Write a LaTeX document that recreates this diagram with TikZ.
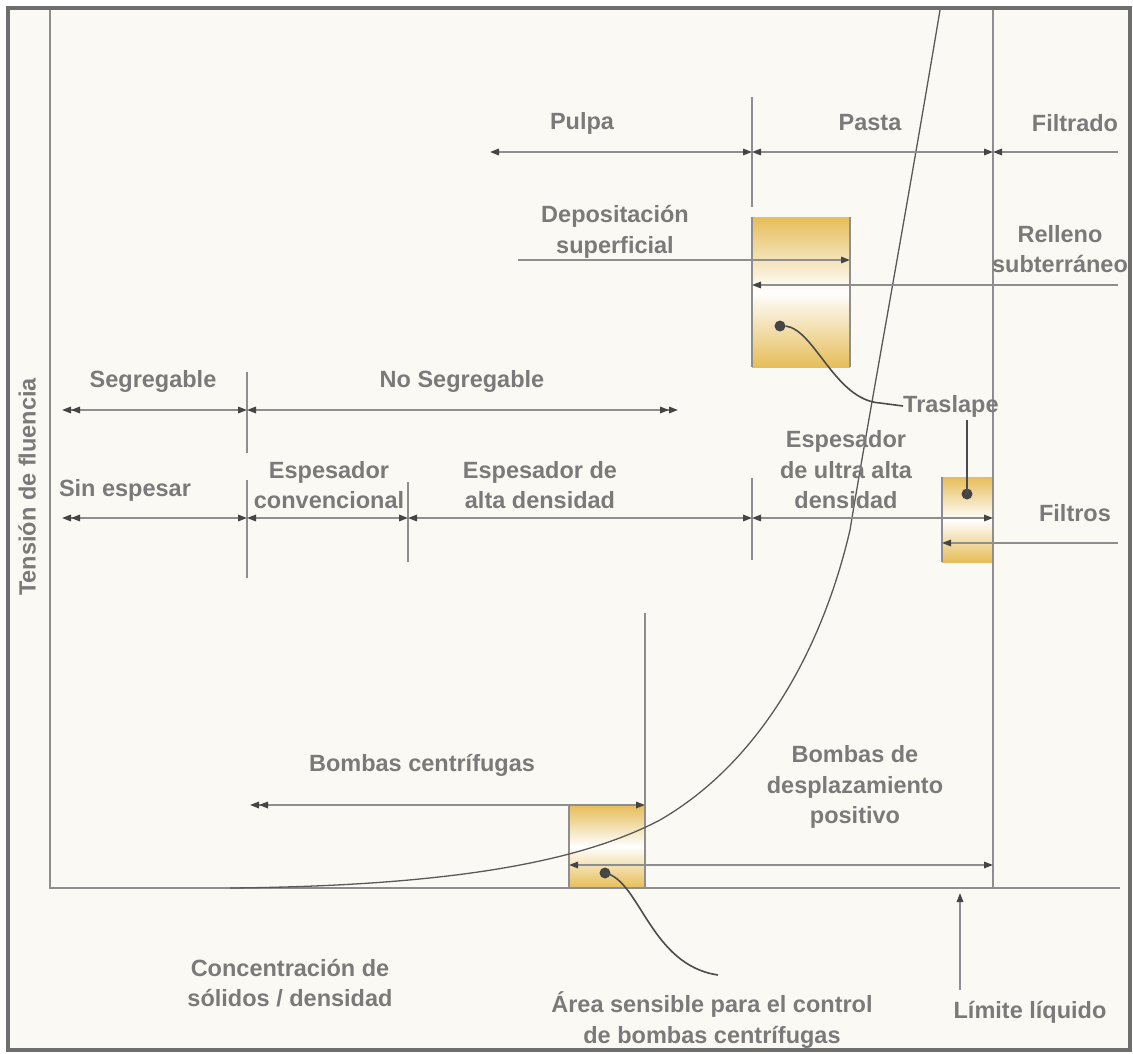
\documentclass[tikz,border=0pt]{standalone}
\usepackage{fontspec}
\setmainfont{Liberation Sans}
\usetikzlibrary{arrows.meta, positioning}
\definecolor{framegray}{HTML}{6E6E6E}
\definecolor{linegray}{HTML}{8E8E8E}
\definecolor{txtgray}{HTML}{7A7A7A}
\definecolor{tipgray}{HTML}{454545}
\definecolor{paper}{HTML}{FBF9F4}
\definecolor{gold}{HTML}{E6BD58}
\tikzset{tp/.tip={Triangle[length=9pt, width=6.5pt, color=tipgray]}}

\begin{document}
\begin{tikzpicture}[x=1pt, y=-1pt,
  lbl/.style={text=txtgray, font=\fontsize{23.5}{30.5}\selectfont\bfseries, align=center, inner sep=0pt},
  guide/.style={draw=linegray, line width=1.6pt},
  span/.style={guide, {tp}-{tp}},
  spanL/.style={guide, {tp[] tp[]}-{tp}},
  spanR/.style={guide, {tp}-{tp[] tp[]}},
  goldbox/.style={top color=gold, bottom color=gold, middle color=white},
  dot/.style={circle, fill=tipgray, inner sep=0pt, minimum size=11pt}
]
  \useasboundingbox (0,0) rectangle (1133,1054);
  \fill[white] (0,0) rectangle (1133,1054);
  \fill[paper] (8,8) rectangle (1130,1050);

  \begin{scope}
  \clip (8,8) rectangle (1130,1050);

  % overlap zones
  \shade[goldbox] (752,217) rectangle (850,367);
  \shade[goldbox] (942,477) rectangle (993,562);
  \shade[goldbox] (569,805) rectangle (645,888);

  % axes and limits
  \coordinate (origin) at (50,888);
  \coordinate (xend) at (1120,888);
  \coordinate (ytop) at (50,8);
  \coordinate (liq) at (993,888);
  \draw[guide] (ytop) -- (origin) -- (xend);
  \draw[guide] (liq) -- (993,8);

  % dividers
  \draw[guide] (752,97) -- (752,207);
  \draw[guide] (752,217) -- (752,367);
  \draw[guide] (850,217) -- (850,367);
  \draw[guide] (247,372) -- (247,453);
  \draw[guide] (247,480) -- (247,578);
  \draw[guide] (408,482) -- (408,562);
  \draw[guide] (752,478) -- (752,560);
  \draw[guide] (942,477) -- (942,562);
  \draw[guide] (645,613) -- (645,888);
  \draw[guide] (569,805) -- (569,888);

  % yield stress curve
  \draw[guide, line width=1.3pt, draw=gray!70!black] (230,888) .. controls (450,886) and (580,862) .. (660,820)
      .. controls (760,762) and (822,650) .. (850,530)
      .. controls (868,420) and (905,220) .. (940,10);

  % top row
  \draw[span] (490,152) -- (752,152);
  \draw[span] (752,152) -- (993,152);
  \draw[guide, {tp}-] (993,152) -- (1118,152);
  \node[lbl] (pulpa) at (582,123) {Pulpa};
  \node[lbl] (pasta) at (870,123) {Pasta};
  \node[lbl] (filtrado) at (1075,123) {Filtrado};

  % disposal
  \draw[guide, -{tp}] (518,260) -- (850,260);
  \draw[guide, -{tp}] (1118,285) -- (752,285);
  \node[lbl] (depo) at (615,232) {Depositación\\superficial};
  \node[lbl] (relleno) at (1060,249) {Relleno\\subterráneo};

  % segregation row
  \draw[spanL] (62,410) -- (247,410);
  \draw[spanR] (247,410) -- (678,410);
  \node[lbl] (seg) at (153,381) {Segregable};
  \node[lbl] (noseg) at (462,381) {No Segregable};

  % thickening row
  \draw[spanL] (62,518) -- (247,518);
  \draw[span] (247,518) -- (408,518);
  \draw[span] (408,518) -- (752,518);
  \draw[span] (752,518) -- (993,518);
  \draw[guide, -{tp}] (1118,543) -- (942,543);
  \node[lbl] (sinesp) at (125,490) {Sin espesar};
  \node[lbl] (conv) at (329,485) {Espesador\\convencional};
  \node[lbl] (alta) at (540,485) {Espesador de\\alta densidad};
  \node[lbl] (ultra) at (846,470) {Espesador\\de ultra alta\\densidad};
  \node[lbl] (filtros) at (1075,513) {Filtros};

  % overlap marks
  \node[dot] (dotA) at (780,326) {};
  \node[dot] (dotB) at (967,494) {};
  \node[dot] (dotC) at (605,873) {};
  \node[lbl, anchor=west] (traslape) at (903,406) {Traslape};
  \draw[guide, draw=gray!60!black] (dotA.east) .. controls (815,330) and (835,400) .. (880,403) -- (traslape.west);
  \draw[guide, draw=gray!60!black] (dotB.center) -- (967,420);

  % pumps
  \draw[spanL] (250,805) -- (645,805);
  \draw[span] (569,865) -- (993,865);
  \node[lbl] (centri) at (422,765) {Bombas centrífugas};
  \node[lbl] (despl) at (855,787) {Bombas de\\desplazamiento\\positivo};

  % bottom labels
  \node[lbl] (conc) at (290,983) {Concentración de\\sólidos / densidad};
  \node[lbl] (area) at (712,1020) {Área sensible para el control\\de bombas centrífugas};
  \node[lbl] (limite) at (1030,1012) {Límite líquido};
  \draw[guide, draw=gray!60!black] (dotC.center) .. controls (640,880) and (650,965) .. (718,975);
  \draw[guide, -{tp}] (960,990) -- (960,893);
  \node[lbl, rotate=90] (tension) at (27,487) {Tensión de fluencia};
  \end{scope}

  % outer frame
  \draw[framegray, line width=3.5pt] (8,8) rectangle (1130,1050);
\end{tikzpicture}
\end{document}
